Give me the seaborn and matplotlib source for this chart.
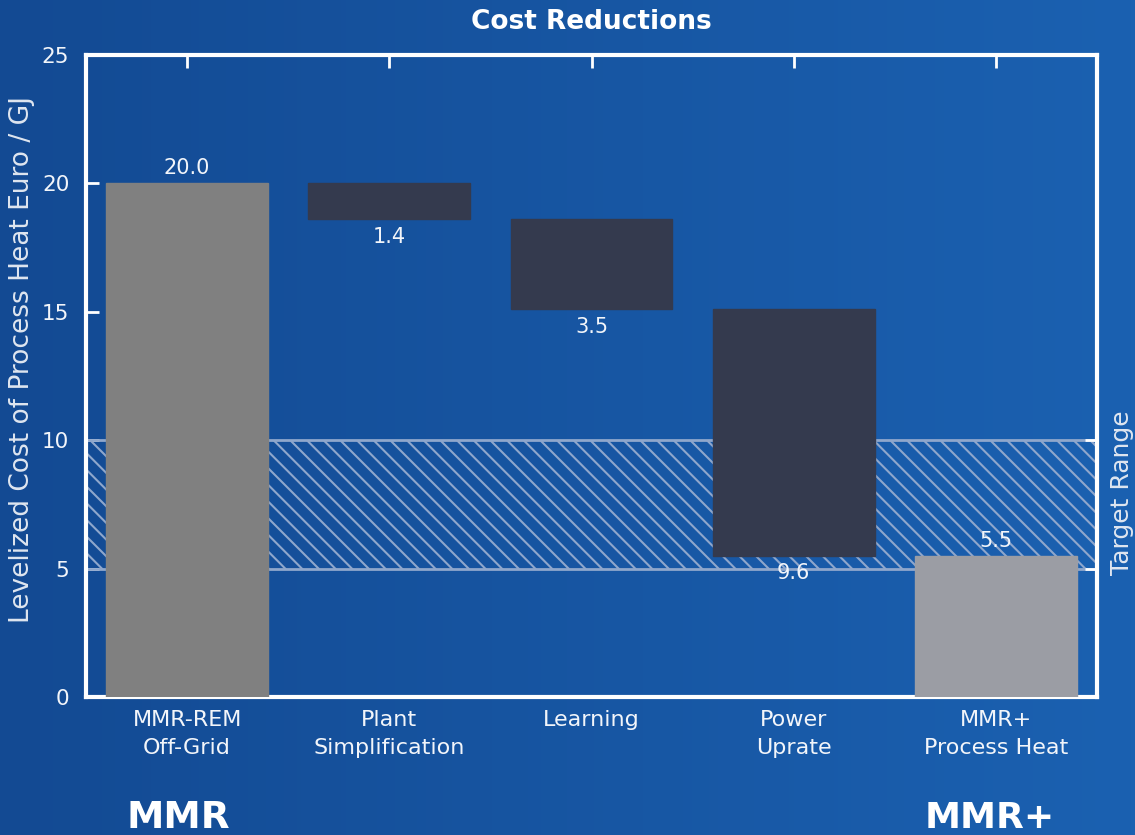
import matplotlib
matplotlib.use("Agg")
import matplotlib.pyplot as plt
import numpy as np
import pandas as pd
import seaborn as sns

# data
categories = ["MMR-REM\nOff-Grid", "Plant\nSimplification", "Learning", "Power\nUprate", "MMR+\nProcess Heat"]
start_cost = 20.0
reductions = [1.4, 3.5, 9.6]
end_cost = 5.5
target_low, target_high = 5, 10
y_ticks = [0, 5, 10, 15, 20, 25]

BG_LEFT = np.array([0x13, 0x4a, 0x93]) / 255
BG_RIGHT = np.array([0x1b, 0x61, 0xb1]) / 255
TEXT = "#f2f5fa"
BAR_COLORS = ["#808080", "#343a4e", "#343a4e", "#343a4e", "#9b9da4"]
HATCH = "#8fa7cc"

# waterfall bottoms / heights
heights = [start_cost] + reductions + [end_cost]
bottoms = [0.0]
level = start_cost
for r in reductions:
    level -= r
    bottoms.append(level)
bottoms.append(0.0)
df = pd.DataFrame({"step": categories, "height": heights, "bottom": bottoms})

sns.set_theme(style="white")
plt.rcParams["font.family"] = ["DejaVu Sans"]
plt.rcParams["hatch.linewidth"] = 1.5

fig = plt.figure(figsize=(11.35, 8.35), dpi=100)

# gradient background
bg = fig.add_axes([0, 0, 1, 1], zorder=-10)
grad = np.linspace(0, 1, 256)[None, :, None]
img = BG_LEFT[None, None, :] * (1 - grad) + BG_RIGHT[None, None, :] * grad
bg.imshow(img, aspect="auto", extent=[0, 1, 0, 1])
bg.set_axis_off()

ax = fig.add_axes([86 / 1135, 1 - 697 / 835, (1097 - 86) / 1135, (697 - 55) / 835])
ax.patch.set_alpha(0)

ax.axhspan(target_low, target_high, facecolor="none", edgecolor=HATCH, hatch="\\\\",
           linewidth=2, zorder=1)

sns.barplot(data=df, x="step", y="height", bottom=df["bottom"], color="#808080",
            width=0.8, saturation=1, ax=ax, zorder=3)
for patch, c in zip(ax.patches[1:], BAR_COLORS):
    patch.set_facecolor(c)
    patch.set_edgecolor(c)

# value labels
for i, row in df.iterrows():
    if i == 0 or i == len(df) - 1:
        ax.text(i, row.bottom + row.height + 0.2, f"{row.height:.1f}", ha="center", va="bottom",
                color=TEXT, fontsize=15)
    else:
        ax.text(i, row.bottom - 0.3, f"{row.height:.1f}", ha="center", va="top",
                color=TEXT, fontsize=15)

ax.set_xlim(-0.5, len(categories) - 0.5)
ax.set_ylim(0, 25)
ax.set_yticks(y_ticks)
ax.set_xlabel("")
ax.set_ylabel("Levelized Cost of Process Heat Euro / GJ", color="#dfe6f0", fontsize=19)
ax.yaxis.set_label_coords(-0.05, 0.525)
ax.tick_params(axis="both", direction="in", length=9, width=2, colors="white",
               labelcolor=TEXT, top=True)
ax.tick_params(axis="x", labelsize=16, pad=9)
ax.tick_params(axis="y", labelsize=15.5, pad=12)
for lbl in ax.get_xticklabels():
    lbl.set_linespacing(1.55)
for s in ax.spines.values():
    s.set_color("white")
    s.set_linewidth(3)

ax2 = ax.twinx()
ax2.set_ylim(0, 25)
ax2.set_yticks([target_low, target_high])
ax2.set_yticklabels([])
ax2.tick_params(axis="y", direction="in", length=9, width=2, colors="white")
ax2.set_ylabel("Target Range", color="#dfe6f0", fontsize=18)
ax2.yaxis.set_label_coords(1.013, 0.318)
for s in ax2.spines.values():
    s.set_visible(False)

fig.text(591 / 1135, 1 - 22 / 835, "Cost Reductions", ha="center", va="center", color="white",
         fontsize=19, fontweight="bold")
fig.text(178 / 1135, 1 - 818 / 835, "MMR", ha="center", va="center", color="white",
         fontsize=27, fontweight="bold")
fig.text(990 / 1135, 1 - 818 / 835, "MMR+", ha="center", va="center", color="white",
         fontsize=26, fontweight="bold")

fig.savefig("out.png", dpi=100, facecolor=fig.get_facecolor())
